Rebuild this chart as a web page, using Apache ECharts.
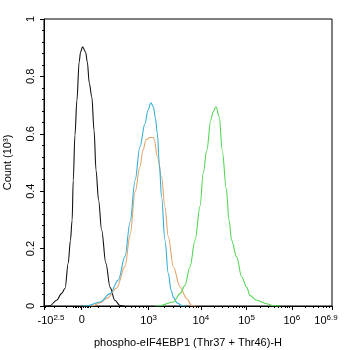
<!DOCTYPE html>
<html>
<head>
<meta charset="utf-8">
<script src="https://cdn.jsdelivr.net/npm/echarts@6/dist/echarts.min.js"></script>
<style>
html,body{margin:0;padding:0;background:#fff}
#c{width:346px;height:350px}
</style>
</head>
<body>
<div id="c"></div>
<script>
// Histogram traces: [display channel (0-1024), count in thousands]
const unstained = [
  [0,0],[14,0],[21,0.001],[45,0.020],[63,0.044],[75,0.062],[86,0.149],[94,0.229],
  [100,0.299],[104,0.438],[110,0.595],[117,0.717],[125,0.850],[130,0.885],[137,0.903],
  [148,0.885],[154,0.850],[161,0.777],[170,0.728],[178,0.612],[185,0.473],[194,0.369],
  [205,0.264],[220,0.149],[235,0.065],[252,0.020],[270,0.002],[285,0]
];
const isotypeBlue = [
  [140,0],[156,0.001],[199,0.014],[235,0.043],[264,0.090],[288,0.173],[306,0.292],
  [324,0.438],[341,0.555],[359,0.636],[370,0.683],[380,0.708],[389,0.694],[396,0.655],
  [403,0.601],[410,0.497],[418,0.380],[430,0.229],[442,0.113],[452,0.055],[460,0.031],
  [473,0.011],[491,0.001],[505,0]
];
const isotypeOrange = [
  [160,0],[174,0.001],[199,0.011],[223,0.026],[258,0.062],[288,0.138],[306,0.247],
  [324,0.397],[341,0.485],[352,0.543],[363,0.580],[377,0.587],[389,0.587],[392,0.580],
  [403,0.520],[418,0.450],[430,0.345],[442,0.241],[460,0.136],[484,0.066],[507,0.026],
  [525,0.002],[540,0]
];
const stainedGreen = [
  [395,0],[412,0.001],[460,0.014],[484,0.043],[501,0.072],[519,0.136],[537,0.229],
  [555,0.348],[566,0.462],[579,0.543],[593,0.648],[601,0.676],[612,0.694],[623,0.659],
  [634,0.540],[648,0.410],[658,0.299],[667,0.229],[685,0.171],[703,0.101],[721,0.065],
  [732,0.037],[756,0.020],[792,0.008],[815,0.001],[840,0]
];

// Biexponential display scale: intensity -> channel anchors
const scaleValues   = [-316.23, 0, 1e3, 1e4, 1e5, 1e6, 7.943e6];
const scaleChannels = [0, 134, 372, 558, 720, 881, 1024];
const tickLabels = ['{a|-10}{s|2.5}', '{n|0}', '{n|10}{s|3}', '{n|10}{s|4}', '{n|10}{s|5}', '{n|10}{s|6}', '{n|10}{z|6.9}'];

const W = 150;
const tr = v => Math.asinh(v / W);
function toChannel(v) {
  const t = tr(v);
  for (let i = 0; i < scaleValues.length - 1; i++) {
    const t0 = tr(scaleValues[i]), t1 = tr(scaleValues[i + 1]);
    if (t <= t1 || i === scaleValues.length - 2) {
      return scaleChannels[i] + (t - t0) / (t1 - t0) * (scaleChannels[i + 1] - scaleChannels[i]);
    }
  }
}

// minor tick intensities
const minorValues = [-300, -200, -100, -50, -40, -30, -20, -10, 10, 20, 30, 40, 50];
for (let m = 100; m < 1000; m += 100) minorValues.push(m);
for (let d = 1e3; d <= 1e6; d *= 10) for (let k = 2; k <= 9; k++) if (k * d < 7.9e6) minorValues.push(k * d);
const minorChannels = minorValues.map(toChannel);

const FONT = 'Liberation Sans, Arial, sans-serif';
const chart = echarts.init(document.getElementById('c'), null, {renderer: 'canvas'});

const line = (name, data, color) => ({
  name, type: 'line', data, xAxisIndex: 0, yAxisIndex: 0,
  showSymbol: false, smooth: 0.35, smoothMonotone: 'x',
  lineStyle: {color, width: 1.1}, itemStyle: {color}, z: 3
});

chart.setOption({
  animation: false,
  backgroundColor: '#fff',
  grid: {left: 44, right: 14, top: 19, bottom: 44, outerBoundsMode: 'none', containLabel: false,
         show: true, borderColor: '#000', borderWidth: 1, backgroundColor: 'transparent'},
  xAxis: [{
    type: 'value', min: 0, max: 1024,
    name: 'phospho-eIF4EBP1 (Thr37 + Thr46)-H', nameLocation: 'middle', nameGap: 31,
    nameTextStyle: {color: '#000', fontSize: 11, fontFamily: FONT},
    axisLine: {lineStyle: {color: '#000', width: 1}},
    axisTick: {show: true, length: 4, inside: false, customValues: scaleChannels, lineStyle: {color: '#000'}},
    splitLine: {show: false},
    axisLabel: {
      customValues: scaleChannels, margin: 8, color: '#000', fontFamily: FONT,
      formatter: v => {
        let best = 0;
        scaleChannels.forEach((c, i) => { if (Math.abs(c - v) < Math.abs(scaleChannels[best] - v)) best = i; });
        return tickLabels[best];
      },
      rich: {
        n: {fontSize: 11, fontFamily: FONT, color: '#000'},
        a: {fontSize: 11, fontFamily: FONT, color: '#000', padding: [0, 0, 0, 14]},
        s: {fontSize: 8, fontFamily: FONT, color: '#000', verticalAlign: 'top', padding: [0, 0, 6, 0]},
        z: {fontSize: 8, fontFamily: FONT, color: '#000', verticalAlign: 'top', padding: [0, 12, 6, 0]}
      }
    }
  }, {
    type: 'value', min: 0, max: 1024, position: 'bottom', gridIndex: 0,
    axisLine: {show: false},
    axisTick: {show: true, length: 2, customValues: minorChannels, lineStyle: {color: '#000'}},
    axisLabel: {show: false},
    splitLine: {show: false}
  }],
  yAxis: {
    type: 'value', min: 0, max: 1, interval: 0.2,
    name: 'Count (10³)', nameLocation: 'middle', nameGap: 31,
    nameTextStyle: {color: '#000', fontSize: 11, fontFamily: FONT},
    axisLine: {show: true, lineStyle: {color: '#000', width: 1}},
    axisTick: {show: true, length: 4, lineStyle: {color: '#000'}},
    minorTick: {show: true, splitNumber: 5, length: 2, lineStyle: {color: '#000'}},
    splitLine: {show: false},
    axisLabel: {rotate: 90, margin: 8, color: '#000', fontSize: 11, fontFamily: FONT}
  },
  series: [
    line('unstained', unstained, '#111111'),
    line('isotype A', isotypeOrange, '#e5a46a'),
    line('isotype B', isotypeBlue, '#33aed6'),
    line('stained', stainedGreen, '#55d655')
  ]
});
</script>
</body>
</html>
